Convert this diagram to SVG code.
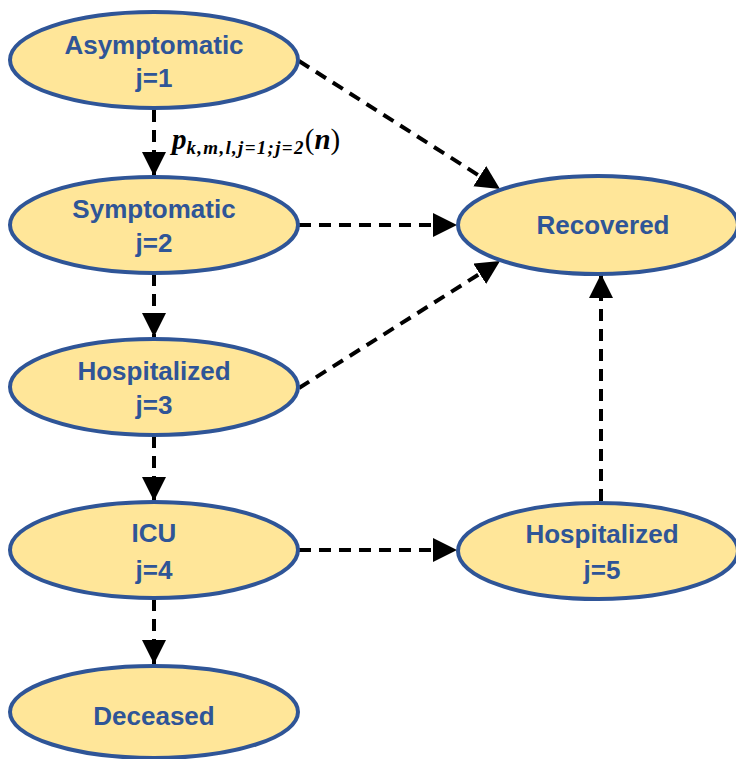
<svg xmlns="http://www.w3.org/2000/svg" width="736" height="759" viewBox="0 0 736 759">
<style>
.n ellipse{fill:#FFE699;stroke:#2F5597;stroke-width:4}
.n text{font-family:"Liberation Sans",Arial,sans-serif;font-weight:bold;font-size:26px;fill:#2F5597;text-anchor:middle}
.c line{stroke:#000;stroke-width:4;stroke-dasharray:12 8;marker-end:url(#ah)}
.m{font-family:"Liberation Serif","DejaVu Serif",serif;font-weight:bold;font-style:italic;fill:#000}
</style>
<defs>
<marker id="ah" markerUnits="userSpaceOnUse" markerWidth="26" markerHeight="26" refX="24" refY="12" orient="auto">
<path d="M0,0 L24,12 L0,24 Z" fill="#000"/>
</marker>
</defs>
<rect width="736" height="759" fill="#fff"/>
<g class="c">
<line x1="154" y1="110" x2="154" y2="176"/>
<line x1="154" y1="274" x2="154" y2="337"/>
<line x1="154" y1="436" x2="154" y2="501"/>
<line x1="154" y1="599" x2="154" y2="664"/>
<line x1="299" y1="61" x2="500" y2="189"/>
<line x1="299" y1="225" x2="457" y2="225"/>
<line x1="299" y1="388" x2="500" y2="261"/>
<line x1="299" y1="550" x2="457" y2="550"/>
<line x1="601" y1="501" x2="601" y2="274"/>
</g>
<text class="m" x="172" y="149"><tspan font-size="29">p</tspan><tspan font-size="19" dy="5" letter-spacing="1.3">k,m,l,j=1;j=2</tspan><tspan font-size="29" dy="-5" font-style="normal" font-weight="normal">(</tspan><tspan font-size="29">n</tspan><tspan font-size="29" font-style="normal" font-weight="normal">)</tspan></text>
<g id="asymptomatic" class="n"><ellipse cx="154" cy="60" rx="144" ry="48"/><text x="154" y="54">Asymptomatic</text><text x="154" y="87">j=1</text></g>
<g id="symptomatic" class="n"><ellipse cx="154" cy="225" rx="144" ry="48"/><text x="154" y="218">Symptomatic</text><text x="154" y="252">j=2</text></g>
<g id="hospitalized3" class="n"><ellipse cx="154" cy="387" rx="144" ry="48"/><text x="154" y="380">Hospitalized</text><text x="154" y="414">j=3</text></g>
<g id="icu" class="n"><ellipse cx="154" cy="550" rx="144" ry="48"/><text x="154" y="542">ICU</text><text x="154" y="579">j=4</text></g>
<g id="deceased" class="n"><ellipse cx="154" cy="712" rx="144" ry="46"/><text x="154" y="725">Deceased</text></g>
<g id="recovered" class="n"><ellipse cx="598" cy="225" rx="140" ry="49"/><text x="603" y="234">Recovered</text></g>
<g id="hospitalized5" class="n"><ellipse cx="598" cy="551" rx="140" ry="48"/><text x="602" y="543">Hospitalized</text><text x="602" y="579">j=5</text></g>
</svg>
